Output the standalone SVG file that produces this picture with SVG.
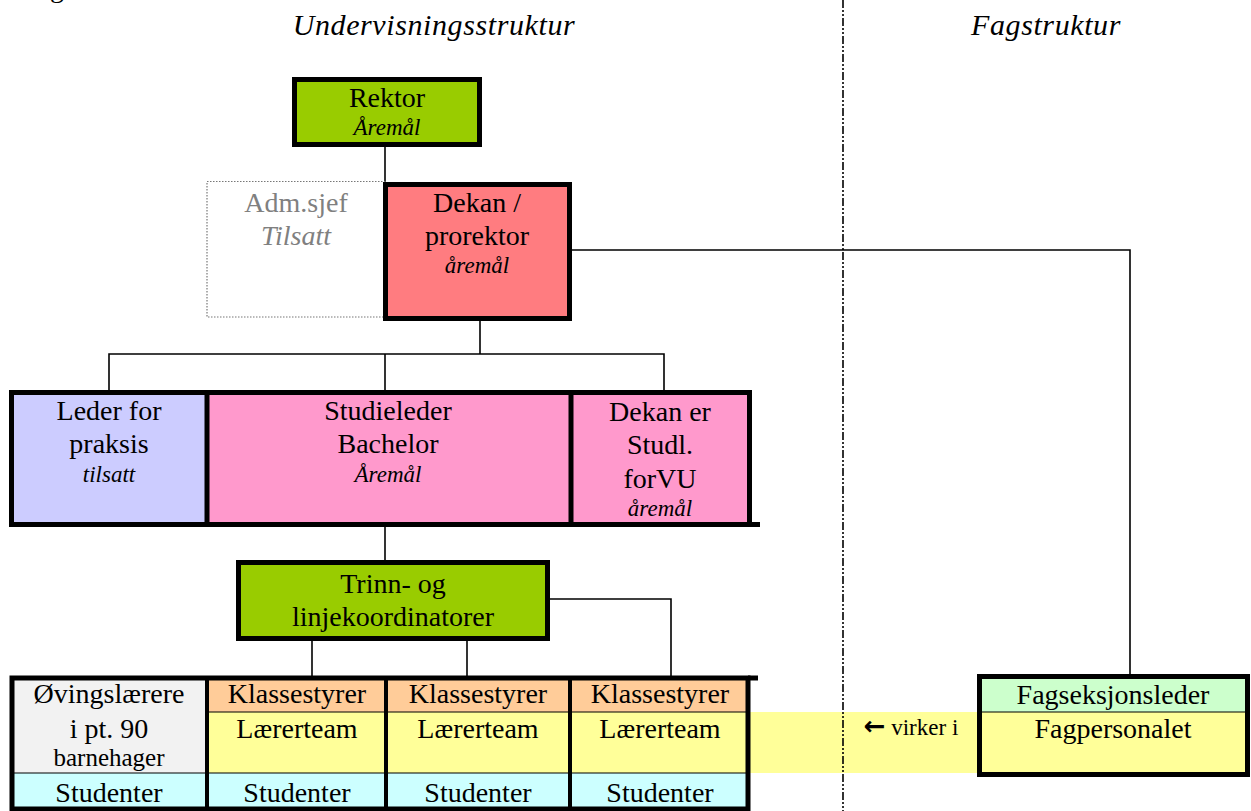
<svg xmlns="http://www.w3.org/2000/svg" width="1251" height="811" viewBox="0 0 1251 811">
<style>
text{font-family:"Liberation Serif","Times New Roman",serif;fill:#000;text-anchor:middle}
.t{font-size:28px}
.i{font-size:23px;font-style:italic}
.h{font-size:30px;font-style:italic;letter-spacing:0.6px}
.g{fill:#808080}
.box{stroke:#000;stroke-width:5}
.thin{stroke:#000;stroke-width:1.2;fill:none}
.line{stroke:#000;stroke-width:1.6;fill:none}
</style>
<rect width="1251" height="811" fill="#fff"/>
<text class="t" x="57" y="-3">g</text>
<text class="h" x="434" y="35">Undervisningsstruktur</text>
<text class="h" x="1046" y="35">Fagstruktur</text>

<g id="yellow-band"><rect x="750" y="712" width="230" height="61" fill="#FFFF99"/>
<text x="911" y="735" style="font-size:23px"><tspan style="font-family:'DejaVu Sans',sans-serif;font-weight:bold;font-size:26px">←</tspan> virker i</text></g>

<g id="connectors">
<line class="line" x1="843" y1="0" x2="843" y2="811" stroke-dasharray="8 2 2 2 2 2"/>
<polyline class="line" points="385,147 385,182"/>
<polyline class="line" points="572,250 1130,250 1130,674"/>
<polyline class="line" points="480,321 480,354"/>
<polyline class="line" points="109,391 109,354 664,354 664,391"/>
<polyline class="line" points="385,354 385,391"/>
<polyline class="line" points="385,527 385,560"/>
<polyline class="line" points="550,599 671,599 671,676"/>
<polyline class="line" points="312,641 312,676"/>
<polyline class="line" points="467,641 467,676"/>
</g>

<g id="rektor">
<rect class="box" x="294.5" y="79.5" width="185" height="65" fill="#99CC00"/>
<text class="t" x="387" y="107">Rektor</text>
<text class="i" x="387" y="135">Åremål</text>
</g>

<g id="admsjef">
<rect x="207" y="181.5" width="178" height="135.5" fill="#fff" stroke="#777" stroke-width="1.2" stroke-dasharray="1.5 1.5"/>
<text class="t g" x="296" y="212">Adm.sjef</text>
<text class="t g" x="296" y="245" font-style="italic">Tilsatt</text>
</g>

<g id="dekan">
<rect class="box" x="385.5" y="184.5" width="184" height="134" fill="#FF7C80"/>
<text class="t" x="477" y="212">Dekan /</text>
<text class="t" x="477" y="245">prorektor</text>
<text class="i" x="477" y="273">åremål</text>
</g>

<g id="row2">
<rect x="11.5" y="392.5" width="196" height="132" fill="#CCCCFF"/>
<rect x="207" y="392.5" width="364" height="132" fill="#FF99CC"/>
<rect x="571" y="392.5" width="179" height="132" fill="#FF99CC"/>
<rect x="11.5" y="392.5" width="738" height="132" fill="none" class="box"/>
<line x1="749" y1="524.5" x2="760" y2="524.5" stroke="#000" stroke-width="5"/>
<line x1="207" y1="392" x2="207" y2="525" stroke="#000" stroke-width="5"/>
<line x1="571" y1="392" x2="571" y2="525" stroke="#000" stroke-width="5"/>
<g id="leder-praksis">
<text class="t" x="109" y="420">Leder for</text>
<text class="t" x="109" y="453">praksis</text>
<text class="i" x="109" y="482">tilsatt</text>
</g>
<g id="studieleder">
<text class="t" x="388" y="420">Studieleder</text>
<text class="t" x="388" y="453">Bachelor</text>
<text class="i" x="388" y="482">Åremål</text>
</g>
<g id="dekan-studl">
<text class="t" x="660" y="421">Dekan er</text>
<text class="t" x="660" y="454">Studl.</text>
<text class="t" x="660" y="488">forVU</text>
<text class="i" x="660" y="516">åremål</text>
</g>
</g>

<g id="trinn">
<rect class="box" x="238.5" y="562.5" width="309" height="76" fill="#99CC00"/>
<text class="t" x="393" y="593">Trinn- og</text>
<text class="t" x="393" y="626">linjekoordinatorer</text>
</g>

<g id="row3">
<rect x="12" y="678" width="195" height="95" fill="#F2F2F2"/>
<rect x="207" y="678" width="543" height="34" fill="#FFCC99"/>
<rect x="207" y="712" width="543" height="61" fill="#FFFF99"/>
<rect x="12" y="773" width="738" height="37" fill="#CCFFFF"/>
<line class="thin" x1="207" y1="712" x2="750" y2="712"/>
<line class="thin" x1="12" y1="773" x2="750" y2="773"/>
<rect x="12" y="678" width="736" height="131" fill="none" class="box"/>
<line x1="748" y1="678" x2="758" y2="678" stroke="#000" stroke-width="5"/>
<line x1="207" y1="678" x2="207" y2="810" stroke="#000" stroke-width="4"/>
<line x1="386" y1="678" x2="386" y2="810" stroke="#000" stroke-width="4"/>
<line x1="570" y1="678" x2="570" y2="810" stroke="#000" stroke-width="4"/>
<g id="ovingslaerere">
<text class="t" x="109" y="703">Øvingslærere</text>
<text class="t" x="109" y="738">i pt. 90</text>
<text class="t" x="109" y="766" style="font-size:25px">barnehager</text>
<text class="t" x="109" y="802">Studenter</text>
</g>
<g id="klasse1">
<text class="t" x="297" y="703">Klassestyrer</text>
<text class="t" x="297" y="738">Lærerteam</text>
<text class="t" x="297" y="802">Studenter</text>
</g>
<g id="klasse2">
<text class="t" x="478" y="703">Klassestyrer</text>
<text class="t" x="478" y="738">Lærerteam</text>
<text class="t" x="478" y="802">Studenter</text>
</g>
<g id="klasse3">
<text class="t" x="660" y="703">Klassestyrer</text>
<text class="t" x="660" y="738">Lærerteam</text>
<text class="t" x="660" y="802">Studenter</text>
</g>
</g>

<g id="fagseksjon">
<rect x="979.5" y="676.5" width="268" height="36" fill="#CCFFCC"/>
<rect x="979.5" y="712" width="268" height="63" fill="#FFFF99"/>
<line class="thin" x1="979" y1="712" x2="1248" y2="712"/>
<rect class="box" x="979.5" y="676.5" width="268" height="98" fill="none"/>
<text class="t" x="1113" y="704">Fagseksjonsleder</text>
<text class="t" x="1113" y="738">Fagpersonalet</text>
</g>
</svg>
